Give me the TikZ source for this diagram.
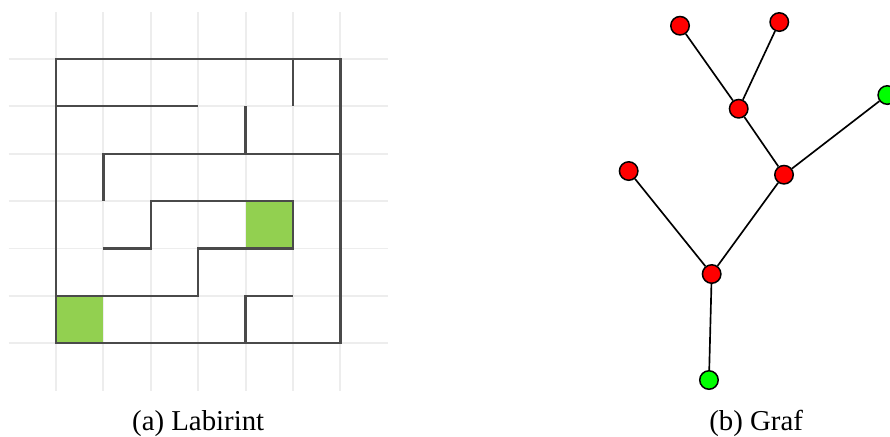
\documentclass[tikz,border=0pt]{standalone}
\usepackage{fontspec}
\setmainfont{Liberation Serif}
\usepackage{tikz}
\usetikzlibrary{positioning}

\definecolor{cellgreen}{HTML}{92D050}
\definecolor{gridgray}{HTML}{EDEDED}
\definecolor{wallgray}{HTML}{4A4A4A}
\definecolor{vertexred}{HTML}{FF0000}
\definecolor{vertexgreen}{HTML}{00FF00}

\begin{document}
\begin{tikzpicture}[
            wall/.style={draw=wallgray, line width=1.4pt},
            gridline/.style={draw=gridgray, line width=1.1pt},
            cell/.style={fill=cellgreen},
            vertex/.style={circle, draw, line width=0.9pt, minimum size=0.39cm, inner sep=0pt, fill=vertexred},
            end vertex/.style={vertex, fill=vertexgreen},
            edge/.style={draw, line width=1pt},
            caption/.style={anchor=base, font=\fontsize{17.3}{20}\selectfont}
    ]
        \useasboundingbox (-1.181,-1.956) rectangle (17.595,7.243);

        % Maze grid
        \foreach \i in {0,...,6} {
            \draw[gridline] (-1,\i) -- (7,\i);
            \draw[gridline] (\i,-1) -- (\i,7);
        }

        % Start and goal cells
        \fill[cell] (0,0) rectangle (1,1);
        \fill[cell] (4,2) rectangle (5,3);

        % Walls
        \draw[wall] (0,0) rectangle (6,6);
        \draw[wall] (5,6) -- (5,5);
        \draw[wall] (0,5) -- (3,5);
        \draw[wall] (4,5) -- (4,4);
        \draw[wall] (1,3) -- (1,4) -- (6,4);
        \draw[wall] (1,2) -- (2,2) -- (2,3) -- (5,3) -- (5,2) -- (3,2) -- (3,1) -- (0,1);
        \draw[wall] (4,0) -- (4,1) -- (5,1);

        % Graph
        \node[vertex] (v_a) at (13.165,6.700) {};
        \node[vertex] (v_b) at (15.259,6.778) {};
        \node[vertex] (v_c) at (14.403,4.949) {};
        \node[end vertex] (v_d) at (17.538,5.238) {};
        \node[vertex] (v_e) at (15.359,3.557) {};
        \node[vertex] (v_f) at (12.082,3.635) {};
        \node[vertex] (v_g) at (13.833,1.462) {};
        \node[end vertex] (v_h) at (13.776,-0.774) {};

        % Edges
        \draw[edge] (v_a) -- (v_c);
        \draw[edge] (v_b) -- (v_c);
        \draw[edge] (v_c) -- (v_e);
        \draw[edge] (v_d) -- (v_e);
        \draw[edge] (v_e) -- (v_g);
        \draw[edge] (v_f) -- (v_g);
        \draw[edge] (v_g) -- (v_h);

        % Captions
        \node[caption] (cap_maze) at (3,-1.829) {(a) Labirint};
        \node[caption] (cap_graph) at (14.77,-1.829) {(b) Graf};

    \end{tikzpicture}
\end{document}
